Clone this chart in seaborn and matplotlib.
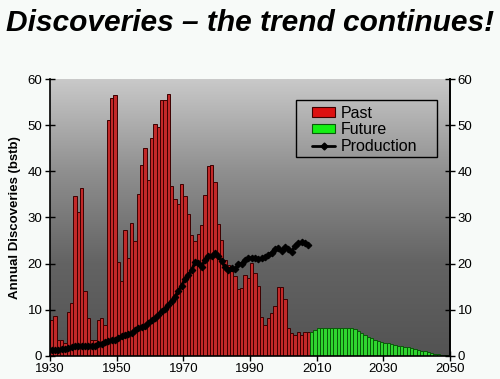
import numpy as np
import pandas as pd
import matplotlib
matplotlib.use("Agg")
import matplotlib.pyplot as plt
import seaborn as sns
from matplotlib.patches import Patch, Rectangle
from matplotlib.lines import Line2D

# ---------------- data ----------------
past_years = list(range(1930, 2008))
past_values = [
    7.7, 8.6, 3.4, 3.3, 2.7, 9.4, 11.4, 34.7, 31.3, 36.3,      # 1930-39
    14.1, 8.2, 3.3, 3.5, 7.7, 8.1, 6.7, 51.2, 55.9, 56.5,      # 1940-49
    20.4, 16.2, 27.3, 21.3, 28.7, 24.9, 35.2, 41.4, 45.0, 38.1, # 1950-59
    47.3, 50.3, 49.6, 55.4, 55.6, 56.8, 36.9, 34.0, 32.9, 37.3, # 1960-69
    34.7, 30.8, 26.2, 25.0, 26.4, 28.4, 34.9, 41.2, 41.3, 37.6, # 1970-79
    28.6, 25.2, 20.8, 19.7, 18.3, 17.2, 14.5, 14.6, 17.6, 16.8, # 1980-89
    20.2, 17.9, 15.1, 8.5, 6.7, 8.1, 9.2, 10.8, 15.0, 15.0,     # 1990-99
    12.2, 6.1, 4.9, 4.6, 5.1, 4.6, 5.1, 5.1,                    # 2000-07
]
future_years = list(range(2008, 2050))
future_values = [
    5.2, 5.6, 6.0, 6.1, 6.1, 6.1, 6.1, 6.1, 6.1, 6.1,           # 2008-17
    6.1, 6.1, 6.1, 5.7, 5.3, 4.9, 4.5, 4.1, 3.8, 3.5,           # 2018-27
    3.2, 3.0, 2.8, 2.7, 2.5, 2.4, 2.2, 2.1, 1.9, 1.8,           # 2028-37
    1.6, 1.5, 1.3, 1.1, 0.95, 0.8, 0.6, 0.45, 0.3, 0.2,         # 2038-47
    0.1, 0.05,                                                  # 2048-49
]
prod_years = list(range(1930, 2008))
prod_values = [
    1.3, 1.3, 1.3, 1.4, 1.5, 1.6, 1.8, 2.0, 2.0, 2.1,
    2.1, 2.2, 2.0, 2.2, 2.5, 2.6, 2.9, 3.1, 3.4, 3.4,
    3.8, 4.2, 4.4, 4.7, 4.9, 5.5, 6.0, 6.3, 6.5, 7.0,
    7.7, 8.2, 8.9, 9.6, 10.2, 11.0, 11.9, 12.8, 14.0, 15.2,
    16.6, 17.5, 18.5, 20.3, 20.1, 19.3, 20.8, 21.6, 21.6, 22.3,
    21.6, 20.5, 19.2, 18.7, 19.0, 18.8, 19.9, 20.0, 20.8, 21.2,
    21.2, 21.1, 21.0, 21.1, 21.4, 21.8, 22.4, 23.1, 23.4, 22.7,
    23.5, 23.2, 22.6, 23.8, 24.5, 24.6, 24.5, 24.0,
]
x_ticks = [1930, 1950, 1970, 1990, 2010, 2030, 2050]
y_ticks = [0, 10, 20, 30, 40, 50, 60]
title_text = "Discoveries – the trend continues!"
ylabel_text = "Annual Discoveries (bstb)"
legend_labels = ["Past", "Future", "Production"]

# ---------------- style ----------------
sns.set_style("ticks")
plt.rcParams["font.family"] = ["Liberation Sans", "DejaVu Sans"]
plt.rcParams["text.color"] = "black"
plt.rcParams["axes.labelcolor"] = "black"

red_fill, red_edge = "#dc1010", "#3c0000"
green_fill, green_edge = "#14f014", "#0a5a0a"

bars = pd.DataFrame({
    "year": past_years + future_years,
    "value": past_values + future_values,
    "kind": ["Past"] * len(past_years) + ["Future"] * len(future_years),
})
bars["pos"] = bars["year"] + 0.5
prod = pd.DataFrame({"year": prod_years, "value": prod_values})
prod["pos"] = prod["year"] + 0.5

fig = plt.figure(figsize=(5.0, 3.79), dpi=100, facecolor="#f7faf8")
ax = fig.add_axes([0.1, 0.0615, 0.8, 0.7293])

# gradient background (light at top, dark at bottom)
grad = np.linspace(0, 1, 256).reshape(-1, 1)
cmap = matplotlib.colors.LinearSegmentedColormap.from_list(
    "bg", ["#c9c9c9", "#8f8f8f", "#636363", "#535353"])
ax.imshow(grad, aspect="auto", cmap=cmap, extent=[1930, 2050, 0, 60],
          origin="upper", zorder=0, interpolation="bilinear")

sns.barplot(data=bars, x="pos", y="value", hue="kind", native_scale=True,
            palette={"Past": red_fill, "Future": green_fill}, width=1.0,
            dodge=False, errorbar=None, linewidth=0.7, legend=False, ax=ax,
            zorder=2)
for p in ax.patches:
    fc = p.get_facecolor()
    p.set_edgecolor(green_edge if fc[1] > 0.5 else red_edge)

sns.lineplot(data=prod, x="pos", y="value", color="black", linewidth=2.2,
             marker="D", markersize=3.4, markeredgecolor="black", ax=ax,
             zorder=3)

ax.set_xlim(1930, 2050)
ax.set_ylim(0, 60)
ax.set_xticks(x_ticks)
ax.set_xticklabels([str(t) for t in x_ticks])
ax.set_yticks(y_ticks)
ax.set_xlabel("")
ax.set_ylabel(ylabel_text, fontsize=9.5, fontweight="bold", labelpad=5,
              color="black")
ax.tick_params(axis="both", labelsize=9.5, direction="inout", length=7,
               width=1, colors="black", pad=2)
for s in ["left", "bottom", "right"]:
    ax.spines[s].set_color("black")
    ax.spines[s].set_linewidth(1.2)
ax.spines["top"].set_visible(False)

ax2 = ax.twinx()
ax2.set_ylim(0, 60)
ax2.set_yticks(y_ticks)
ax2.tick_params(axis="y", labelsize=9.5, direction="inout", length=7,
                width=1, colors="black", pad=2)
ax2.spines["top"].set_visible(False)
ax2.spines["right"].set_color("black")
ax2.spines["right"].set_linewidth(1.2)
ax2.spines["left"].set_visible(False)
ax2.spines["bottom"].set_visible(False)

# legend: frame drawn separately to match the wide box of the original
ax2.add_patch(Rectangle((0.615, 0.719), 0.3525, 0.206, transform=ax2.transAxes,
                        facecolor="none", edgecolor="black", linewidth=1.0,
                        zorder=5))
handles = [
    Patch(facecolor=red_fill, edgecolor=red_edge, linewidth=0.8),
    Patch(facecolor=green_fill, edgecolor=green_edge, linewidth=0.8),
    Line2D([0], [0], color="black", linewidth=2, marker="D", markersize=3.5),
]
leg = ax2.legend(handles, legend_labels, loc="upper left",
                 bbox_to_anchor=(0.655, 0.905), frameon=False, fontsize=11.5,
                 handlelength=1.45, handleheight=0.55, handletextpad=0.35,
                 borderpad=0, labelspacing=0.1, borderaxespad=0,
                 labelcolor="black")

fig.text(0.5, 0.938, title_text, ha="center", va="center", fontsize=21.5,
         fontweight="bold", fontstyle="italic", color="black")

fig.savefig("out.png", dpi=100, facecolor=fig.get_facecolor())
